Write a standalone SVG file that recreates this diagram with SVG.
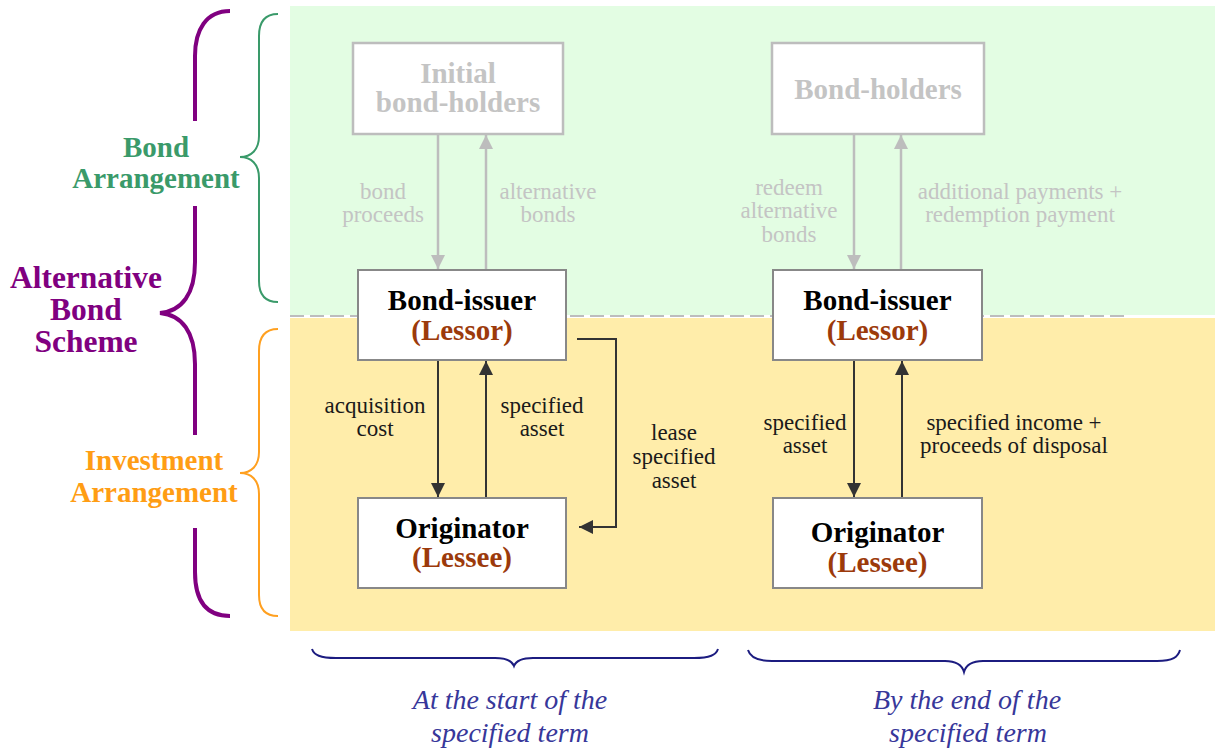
<svg xmlns="http://www.w3.org/2000/svg" width="1215" height="751" viewBox="0 0 1215 751">
  <style>
    .node-box { fill: #ffffff; stroke: #888888; stroke-width: 2; }
    .node-box.faded { stroke: #bdbdbd; stroke-width: 2.5; }
    .node-text { font-family: "Liberation Serif", "Times New Roman", serif; font-weight: bold; font-size: 29px; text-anchor: middle; fill: #000000; }
    .node-text.faded { fill: #c4c4c4; }
    .role { fill: #9c3a0b; }
    .lbl { font-family: "Liberation Serif", "Times New Roman", serif; font-size: 23px; text-anchor: middle; fill: #1a1a1a; }
    .lbl.faded { fill: #c4c4c4; }
    .flow { fill: none; stroke: #333333; stroke-width: 2; }
    .flow.faded { stroke: #bdbdbd; stroke-width: 2.5; }
    .side { font-family: "Liberation Serif", "Times New Roman", serif; font-weight: bold; text-anchor: middle; }
    .term { font-family: "Liberation Serif", "Times New Roman", serif; font-style: italic; font-size: 28px; text-anchor: middle; fill: #37379a; }
    .brace { fill: none; stroke-linecap: butt; }
  </style>
  <defs>
    <marker id="arrow-dark" markerUnits="userSpaceOnUse" markerWidth="14" markerHeight="14" refX="14" refY="7" orient="auto">
      <path d="M0,0 L14,7 L0,14 z" fill="#333333"/>
    </marker>
    <marker id="arrow-faded" markerUnits="userSpaceOnUse" markerWidth="14" markerHeight="14" refX="14" refY="7" orient="auto">
      <path d="M0,0 L14,7 L0,14 z" fill="#bdbdbd"/>
    </marker>
  </defs>

  <!-- background bands -->
  <g id="bands">
    <rect x="290" y="6" width="925" height="309" fill="#e3fde3"/>
    <rect x="290" y="318" width="925" height="313" fill="#ffedaa"/>
    <line x1="290" y1="316" x2="1124" y2="316" stroke="#bdbdbd" stroke-width="2" stroke-dasharray="14 6"/>
  </g>

  <!-- left-hand braces and headings -->
  <g id="scheme-brace">
    <path class="brace" stroke="#800080" stroke-width="4" d="M230,11 C206,11 195,30 195,56 L195,121 M195,206 L195,262 C195,294 182,311 160,313 C182,315 195,332 195,364 L195,435 M195,528 L195,572 C195,600 206,616 230,616"/>
    <text class="side" font-size="31.5" fill="#800080"><tspan x="86" y="288">Alternative</tspan><tspan x="86" y="320">Bond</tspan><tspan x="86" y="352">Scheme</tspan></text>
  </g>
  <g id="bond-brace">
    <path class="brace" stroke="#3a9a6a" stroke-width="2" d="M278,14 C265,14 259,22 259,36 L259,136 C259,150 251,157 240,157 C251,157 259,164 259,178 L259,281 C259,295 265,302 278,302"/>
    <text class="side" font-size="29" fill="#3a9a6a"><tspan x="156" y="157">Bond</tspan><tspan x="156" y="188">Arrangement</tspan></text>
  </g>
  <g id="investment-brace">
    <path class="brace" stroke="#ffa020" stroke-width="2" d="M278,329 C265,329 259,337 259,351 L259,452 C259,466 251,473 240,473 C251,473 259,480 259,494 L259,595 C259,609 265,616 278,616"/>
    <text class="side" font-size="29" fill="#ff9d14"><tspan x="154" y="470">Investment</tspan><tspan x="154" y="502">Arrangement</tspan></text>
  </g>

  <!-- connectors -->
  <g id="connectors">
    <!-- start of term -->
    <line class="flow faded" x1="438" y1="135" x2="438" y2="269" marker-end="url(#arrow-faded)"/>
    <line class="flow faded" x1="486" y1="269" x2="486" y2="135" marker-end="url(#arrow-faded)"/>
    <line class="flow" x1="438" y1="361" x2="438" y2="497" marker-end="url(#arrow-dark)"/>
    <line class="flow" x1="486" y1="497" x2="486" y2="361" marker-end="url(#arrow-dark)"/>
    <path class="flow" d="M577,339 H616 V527 H579" marker-end="url(#arrow-dark)"/>
    <!-- end of term -->
    <line class="flow faded" x1="854" y1="135" x2="854" y2="269" marker-end="url(#arrow-faded)"/>
    <line class="flow faded" x1="901" y1="269" x2="901" y2="135" marker-end="url(#arrow-faded)"/>
    <line class="flow" x1="854" y1="361" x2="854" y2="497" marker-end="url(#arrow-dark)"/>
    <line class="flow" x1="902" y1="497" x2="902" y2="361" marker-end="url(#arrow-dark)"/>

    <text class="lbl faded"><tspan x="383" y="199">bond</tspan><tspan x="383" y="222">proceeds</tspan></text>
    <text class="lbl faded"><tspan x="548" y="199">alternative</tspan><tspan x="548" y="222">bonds</tspan></text>
    <text class="lbl"><tspan x="375" y="413">acquisition</tspan><tspan x="375" y="436">cost</tspan></text>
    <text class="lbl"><tspan x="542" y="413">specified</tspan><tspan x="542" y="436">asset</tspan></text>
    <text class="lbl"><tspan x="674" y="440">lease</tspan><tspan x="674" y="464">specified</tspan><tspan x="674" y="488">asset</tspan></text>

    <text class="lbl faded"><tspan x="789" y="195">redeem</tspan><tspan x="789" y="218">alternative</tspan><tspan x="789" y="242">bonds</tspan></text>
    <text class="lbl faded"><tspan x="1020" y="199">additional payments +</tspan><tspan x="1020" y="222">redemption payment</tspan></text>
    <text class="lbl"><tspan x="805" y="430">specified</tspan><tspan x="805" y="453">asset</tspan></text>
    <text class="lbl"><tspan x="1014" y="430">specified income +</tspan><tspan x="1014" y="453">proceeds of disposal</tspan></text>
  </g>

  <!-- nodes: start of term -->
  <g id="initial-bondholders">
    <rect class="node-box faded" x="353" y="43" width="210" height="91"/>
    <text class="node-text faded"><tspan x="458" y="83">Initial</tspan><tspan x="458" y="112">bond-holders</tspan></text>
  </g>
  <g id="issuer-start">
    <rect class="node-box" x="358" y="270" width="208" height="90"/>
    <text class="node-text"><tspan x="462" y="310">Bond-issuer</tspan><tspan class="role" x="462" y="340">(Lessor)</tspan></text>
  </g>
  <g id="originator-start">
    <rect class="node-box" x="358" y="498" width="208" height="90"/>
    <text class="node-text"><tspan x="462" y="538">Originator</tspan><tspan class="role" x="462" y="567">(Lessee)</tspan></text>
  </g>

  <!-- nodes: end of term -->
  <g id="bondholders">
    <rect class="node-box faded" x="772" y="43" width="212" height="91"/>
    <text class="node-text faded" x="878" y="99">Bond-holders</text>
  </g>
  <g id="issuer-end">
    <rect class="node-box" x="773" y="270" width="209" height="90"/>
    <text class="node-text"><tspan x="877.5" y="310">Bond-issuer</tspan><tspan class="role" x="877.5" y="340">(Lessor)</tspan></text>
  </g>
  <g id="originator-end">
    <rect class="node-box" x="773" y="498" width="209" height="90"/>
    <text class="node-text"><tspan x="877.5" y="542">Originator</tspan><tspan class="role" x="877.5" y="572">(Lessee)</tspan></text>
  </g>

  <!-- term braces along the bottom -->
  <g id="term-start">
    <path class="brace" stroke="#1c1c80" stroke-width="2" d="M312,649 C314,655 320,658 336,658 L495,658 C507,658 512,661 514,666 C516,661 521,658 533,658 L694,658 C710,658 716,655 718,649"/>
    <text class="term"><tspan x="510" y="709">At the start of the</tspan><tspan x="510" y="742">specified term</tspan></text>
  </g>
  <g id="term-end">
    <path class="brace" stroke="#1c1c80" stroke-width="2" d="M748,650 C750,657 757,661 772,661 L945,661 C957,661 962,665 964,672 C966,665 971,661 983,661 L1157,661 C1173,661 1178,657 1180,650"/>
    <text class="term"><tspan x="967" y="709">By the end of the</tspan><tspan x="968" y="742">specified term</tspan></text>
  </g>
</svg>
